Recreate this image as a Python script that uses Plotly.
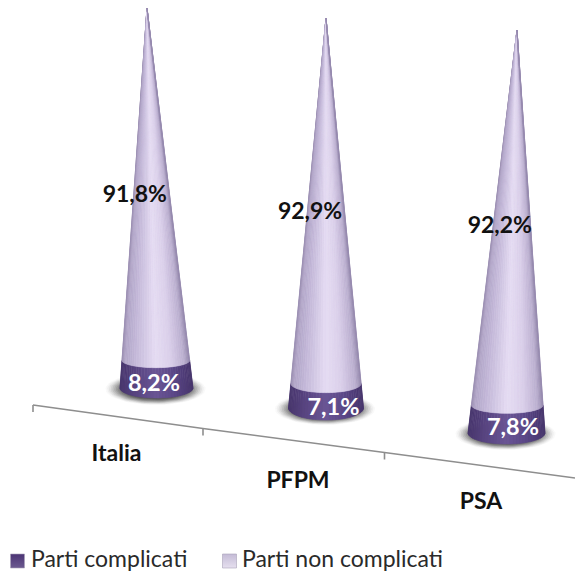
import numpy as np
import plotly.graph_objects as go

# Chart data
categories = ["Italia", "PFPM", "PSA"]
parti_complicati = [8.2, 7.1, 7.8]
parti_non_complicati = [91.8, 92.9, 92.2]
series_names = ["Parti complicati", "Parti non complicati"]

# Projected scene: where each cone stands on the floor and where its 100% apex lands
FLOOR_X = [156.5, 326, 506.5]
FLOOR_Y = [388, 408, 433]
APEX_X = [147, 326, 517]
APEX_Y = [8, 18, 30]
BASE_RX = [36.5, 37.5, 38.5]
BASE_RY = [10, 12, 11]
FORESHORTEN = 0.14

AXIS_X = [33, 203, 384.5, 575]
AXIS_Y = [405, 428.5, 452.5, 478]
TICK_LEN = 7
CATEGORY_LABEL_XY = [(116.5, 455), (298, 482), (481, 503)]

DARK_LABEL_OFFSET = [(-2.5, 11), (7.5, 13), (6.5, 10)]
LIGHT_LABEL_OFFSET = [(-17, 12), (-16, 12), (-12, 10)]

LIGHT_STOPS = [(-1, "#988cb0"), (-0.9, "#b2a6c8"), (-0.6, "#c3b8d8"), (0.0, "#e5dcf3"),
               (0.45, "#dacfea"), (0.85, "#bbafd0"), (1, "#968aae")]
DARK_STOPS = [(-1, "#46346c"), (-0.6, "#574380"), (0.0, "#6a5595"),
              (0.5, "#5b4788"), (1, "#46346c")]
N_STRIPS = 36


def hex_rgb(c):
    return np.array([int(c[i:i + 2], 16) for i in (1, 3, 5)], dtype=float)


def shade(stops, s):
    xs = [p for p, _ in stops]
    rgb = np.array([hex_rgb(c) for _, c in stops])
    vals = [np.interp(s, xs, rgb[:, k]) for k in range(3)]
    return "rgb(%d,%d,%d)" % tuple(round(v) for v in vals)


def rise(share):
    """Fraction of the projected cone height reached at a cumulative share (0..1)."""
    return share / (1 + FORESHORTEN * (1 - share))


def ring(i, share, theta):
    """Point of the cone's cross-section at a cumulative share, at angle theta."""
    f = rise(share)
    cx = FLOOR_X[i] + (APEX_X[i] - FLOOR_X[i]) * f
    cy = FLOOR_Y[i] + (APEX_Y[i] - FLOOR_Y[i]) * f
    rx = BASE_RX[i] * (1 - f)
    ry = BASE_RY[i] * (1 - f) * max(0.0, 1 - 3 * f)
    return cx + rx * np.cos(theta), cy + ry * np.sin(theta)


def band(i, low, high, stops):
    """Draw one stacked section of a cone as narrow vertical strips."""
    traces = []
    edges = np.linspace(np.pi, 0, N_STRIPS + 1)
    for a, b in zip(edges[:-1], edges[1:]):
        ts = np.linspace(a, b, 3)
        lo = [ring(i, low, t) for t in ts]
        hi = [ring(i, high, t) for t in ts[::-1]]
        pts = lo + hi + [lo[0]]
        colour = shade(stops, np.cos((a + b) / 2))
        traces.append(go.Scatter(
            x=[p[0] for p in pts], y=[p[1] for p in pts], mode="lines",
            fill="toself", fillcolor=colour, line=dict(color=colour, width=0.6),
            hoverinfo="skip", showlegend=False))
    return traces


def floor_shadow(i):
    """Soft elliptical shadow beneath a cone, darkening towards the base."""
    traces = []
    t = np.linspace(0, 2 * np.pi, 60)
    cx, cy = FLOOR_X[i] - 1, FLOOR_Y[i] + 1
    for k, alpha in zip(np.linspace(1.0, 0.62, 12), np.linspace(0.03, 0.26, 12)):
        traces.append(go.Scatter(
            x=cx + 50 * k * np.cos(t), y=cy + 16 * k * np.sin(t), mode="lines",
            fill="toself", fillcolor=f"rgba(60,60,60,{alpha:.3f})", line=dict(width=0),
            hoverinfo="skip", showlegend=False))
    return traces


def pct(v):
    return f"{v:.1f}%".replace(".", ",")


fig = go.Figure()

# Category axis running across the floor
fig.add_trace(go.Scatter(x=AXIS_X, y=AXIS_Y, mode="lines",
                         line=dict(color="#8e8e8e", width=1.6),
                         hoverinfo="skip", showlegend=False))
for ax, ay in zip(AXIS_X[:-1], AXIS_Y[:-1]):
    fig.add_trace(go.Scatter(x=[ax, ax], y=[ay, ay + TICK_LEN], mode="lines",
                             line=dict(color="#8e8e8e", width=1.6),
                             hoverinfo="skip", showlegend=False))

# Cones
for i in range(len(categories)):
    low_share = parti_complicati[i] / 100
    top_share = low_share + parti_non_complicati[i] / 100
    for tr in floor_shadow(i):
        fig.add_trace(tr)
    for tr in band(i, 0.0, low_share, DARK_STOPS):
        fig.add_trace(tr)
    for tr in band(i, low_share, top_share, LIGHT_STOPS):
        fig.add_trace(tr)

# Value labels
for i in range(len(categories)):
    low_share = parti_complicati[i] / 100
    top_share = low_share + parti_non_complicati[i] / 100
    mid = ring(i, low_share / 2, 0)[1]
    fig.add_trace(go.Scatter(
        x=[FLOOR_X[i] + DARK_LABEL_OFFSET[i][0]], y=[mid + DARK_LABEL_OFFSET[i][1]],
        mode="text", text=[pct(parti_complicati[i])], textposition="middle center",
        textfont=dict(family="Lato", size=23.5, color="white", weight="bold"),
        hoverinfo="skip", showlegend=False))
    mid = (ring(i, low_share, 0)[1] + ring(i, top_share, 0)[1]) / 2
    fig.add_trace(go.Scatter(
        x=[(FLOOR_X[i] + APEX_X[i]) / 2 + LIGHT_LABEL_OFFSET[i][0]], y=[mid + LIGHT_LABEL_OFFSET[i][1]],
        mode="text", text=[pct(parti_non_complicati[i])], textposition="middle center",
        textfont=dict(family="Lato", size=23, color="#111111", weight="bold"),
        hoverinfo="skip", showlegend=False))

# Category names
fig.add_trace(go.Scatter(
    x=[p[0] for p in CATEGORY_LABEL_XY], y=[p[1] for p in CATEGORY_LABEL_XY],
    mode="text", text=categories, textposition="middle center",
    textfont=dict(family="Lato", size=23, color="#111111", weight="bold"),
    hoverinfo="skip", showlegend=False))

# Legend row: key squares followed by their series names
LEGEND_KEYS = [(17.5, "#4b3474", "#6c5a90"), (229.5, "#c4bbd6", "#e6e0ef")]
LEGEND_TEXT_X = [31, 242]
LEGEND_Y = 561
for name, (kx, col, grad), tx in zip(series_names, LEGEND_KEYS, LEGEND_TEXT_X):
    fig.add_trace(go.Scatter(
        x=[kx], y=[LEGEND_Y], mode="markers",
        marker=dict(symbol="square", size=14, color=col,
                    gradient=dict(type="vertical", color=grad),
                    line=dict(color="#a9a2b8", width=0.6)),
        hoverinfo="skip", showlegend=False))
    fig.add_trace(go.Scatter(
        x=[tx], y=[LEGEND_Y], mode="text", text=[name], textposition="middle right",
        textfont=dict(family="Lato", size=23, color="#2a2a2a"),
        hoverinfo="skip", showlegend=False))

fig.update_layout(
    width=575, height=572, autosize=False,
    margin=dict(l=0, r=0, t=0, b=0),
    paper_bgcolor="white", plot_bgcolor="white",
    xaxis=dict(range=[0, 575], visible=False, fixedrange=True),
    yaxis=dict(range=[572, 0], visible=False, fixedrange=True),
    showlegend=False,
)

fig.write_html("out.html", config=dict(displayModeBar=False))
